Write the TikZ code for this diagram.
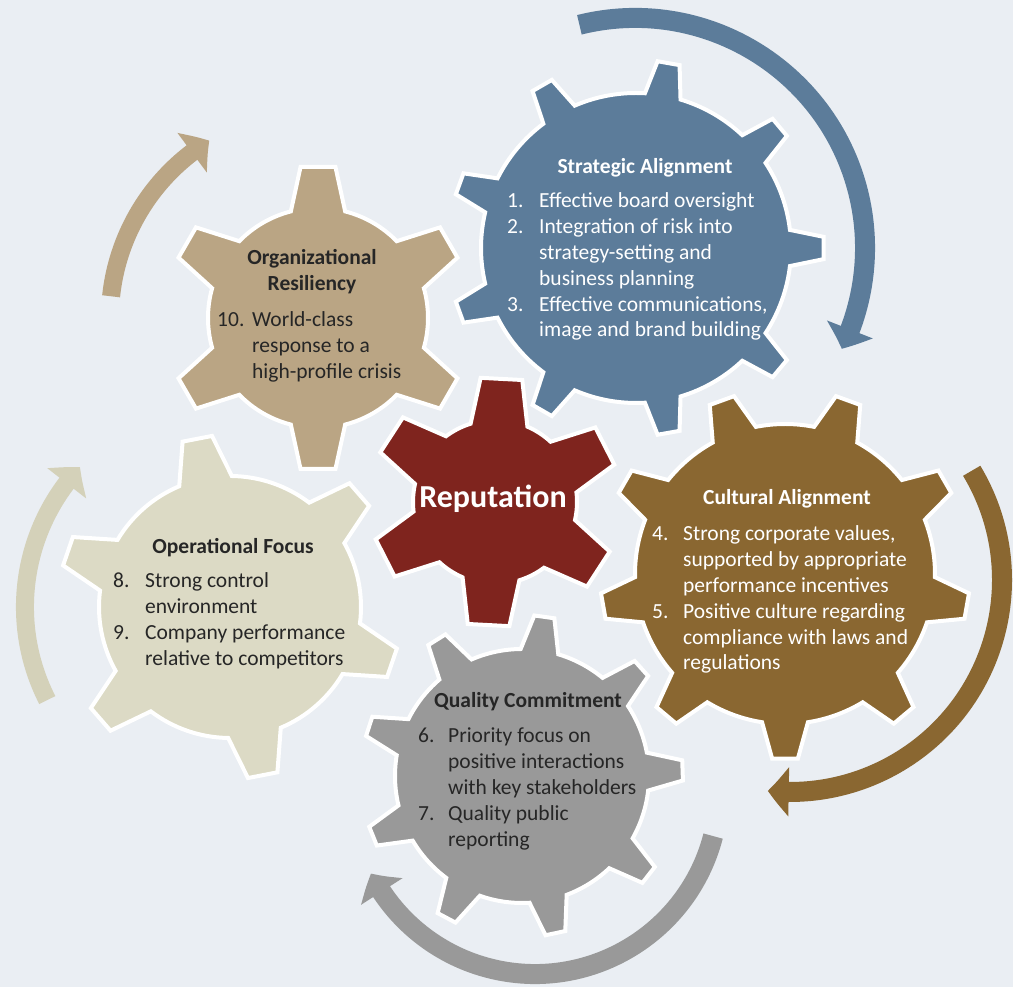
\documentclass[tikz,border=0pt]{standalone}
\usepackage{fontspec}
\setmainfont{Carlito}
\usetikzlibrary{arrows.meta,bending}

\definecolor{bgpanel}{RGB}{234,238,243}
\definecolor{stratblue}{RGB}{92,124,154}
\definecolor{reputred}{RGB}{127,36,30}
\definecolor{resiltan}{RGB}{186,165,132}
\definecolor{operbeige}{RGB}{220,218,197}
\definecolor{operarrow}{RGB}{212,209,185}
\definecolor{cultbrown}{RGB}{138,103,49}
\definecolor{qualgray}{RGB}{153,153,153}
\definecolor{darktext}{RGB}{38,38,38}

% gear outline: teeth, first tooth angle, body radius, tip radius, half angle at base, half angle at tip
\newcommand{\gearpath}[6]{%
  ({#2-#5}:#3) \foreach \k in {1,...,#1}{
    -- ({#2+(\k-1)*360/#1-#6}:#4) -- ({#2+(\k-1)*360/#1+#6}:#4)
    -- ({#2+(\k-1)*360/#1+#5}:#3)
    arc[start angle={#2+(\k-1)*360/#1+#5}, end angle={#2+\k*360/#1-#5}, radius=#3]
  } -- cycle}

\begin{document}
\begin{tikzpicture}[x=1pt, y=1pt,
    gear/.style={draw=white, line width=4pt},
    turn/.style={line width=20pt, -{Triangle[width=48pt, length=21pt, bend]}},
    head/.style={font=\bfseries\fontsize{21.5}{25.8}\selectfont, inner sep=0pt, anchor=base},
    items/.style={font=\fontsize{21.5}{25.8}\selectfont, inner sep=0pt, anchor=base west}]

    \useasboundingbox (0,0) rectangle (1013,987);
    \fill[bgpanel] (0,0) rectangle (1013,987);

    % gear centres
    \coordinate (strat) at (636,739);
    \coordinate (cult) at (785,413);
    \coordinate (qual) at (522,211);
    \coordinate (oper) at (230,380);
    \coordinate (resil) at (318,669);
    \coordinate (reput) at (495,485);

    % arrows round the gears
    \draw[turn, stratblue] (579.4,962.2) arc[start angle=104, end angle=-26, radius=230];
    \draw[turn, cultbrown] (971.7,516.2) arc[start angle=31, end angle=-96, radius=212];
    \draw[turn, qualgray] (713.1,150.9) arc[start angle=-14.5, end angle=-153, radius=184];
    \draw[turn, operarrow, line width=18pt] (47.3,286.9) arc[start angle=207, end angle=137, radius=205];
    \draw[turn, resiltan, line width=18pt] (111.1,690.7) arc[start angle=174, end angle=121.5, radius=208];

    % gears
    \filldraw[gear, fill=stratblue, shift={(strat)}] \gearpath{9}{0}{155}{188}{6.7}{3.4};
    \filldraw[gear, fill=resiltan, shift={(resil)}] \gearpath{6}{30}{110}{152}{14.3}{6.6};
    \filldraw[gear, fill=operbeige, shift={(oper)}] \gearpath{6}{41}{131}{172}{11.8}{5.0};
    \filldraw[gear, fill=cultbrown, shift={(cult)}] \gearpath{9}{30}{150}{185}{8.8}{4.0};
    \filldraw[gear, fill=qualgray, shift={(qual)}] \gearpath{9}{2}{127}{161}{8.6}{3.6};
    \filldraw[gear, fill=reputred, shift={(reput)}] \gearpath{6}{27}{82}{125}{20.3}{9.6};

    % texts
    \node[head, text=white] (strathead) at (645,813) {Strategic Alignment};
    \node[items, text=white] (stratlist) at (507,779) {\begin{tabular}[t]{@{}p{32pt}@{}l@{}}
        1. & Effective board oversight\\
        2. & Integration of risk into\\
           & strategy-setting and\\
           & business planning\\
        3. & Effective communications,\\
           & image and brand building
      \end{tabular}};

    \node[head, text=white] (culthead) at (787,482) {Cultural Alignment};
    \node[items, text=white] (cultlist) at (652,446) {\begin{tabular}[t]{@{}p{31pt}@{}l@{}}
        4. & Strong corporate values,\\
           & supported by appropriate\\
           & performance incentives\\
        5. & Positive culture regarding\\
           & compliance with laws and\\
           & regulations
      \end{tabular}};

    \node[head, text=darktext] (qualhead) at (528,279) {Quality Commitment};
    \node[items, text=darktext] (quallist) at (418,244) {\begin{tabular}[t]{@{}p{30pt}@{}l@{}}
        6. & Priority focus on\\
           & positive interactions\\
           & with key stakeholders\\
        7. & Quality public\\
           & reporting
      \end{tabular}};

    \node[head, text=darktext] (operhead) at (233,433) {Operational Focus};
    \node[items, text=darktext] (operlist) at (113,399) {\begin{tabular}[t]{@{}p{32pt}@{}l@{}}
        8. & Strong control\\
           & environment\\
        9. & Company performance\\
           & relative to competitors
      \end{tabular}};

    \node[head, text=darktext] (resilhead) at (312,722) {\begin{tabular}[t]{@{}c@{}}Organizational\\Resiliency\end{tabular}};
    \node[items, text=darktext] (resillist) at (217,660) {\begin{tabular}[t]{@{}p{35pt}@{}l@{}}
        10. & World-class\\
            & response to a\\
            & high-profile crisis
      \end{tabular}};

    \node[head, text=white, font=\bfseries\fontsize{32}{38}\selectfont] (reputname) at (493,479) {Reputation};
\end{tikzpicture}
\end{document}
